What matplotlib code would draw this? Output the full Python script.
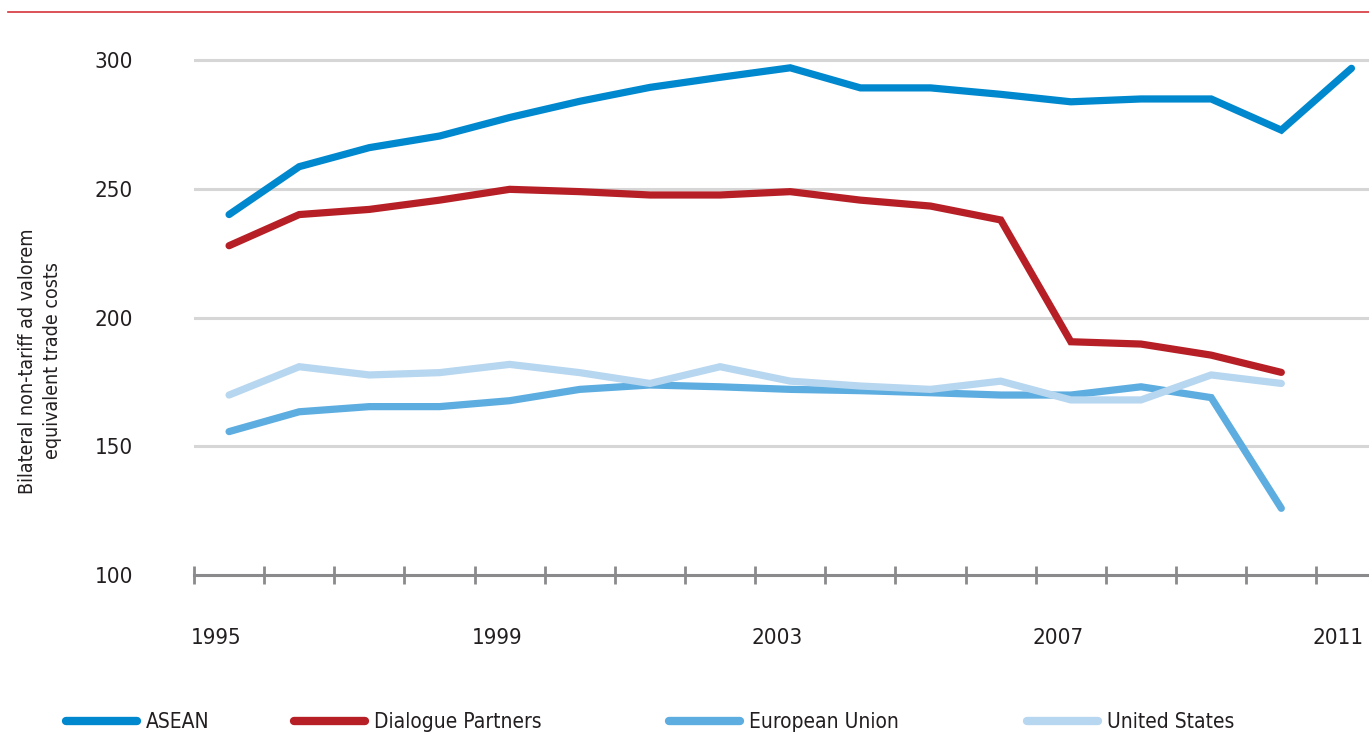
import numpy as np
import matplotlib
matplotlib.use("Agg")
from matplotlib import pyplot as plt
from matplotlib.lines import Line2D
from matplotlib.ticker import FixedLocator
import matplotlib.transforms as mtrans

plt.rcParams['font.family'] = ['DejaVu Sans']
plt.rcParams['font.stretch'] = 'condensed'

years = np.arange(1995, 2012)

# bilateral non-tariff ad valorem equivalent trade costs
asean = [240, 258.6, 266, 270.5, 277.7, 284, 289.4, 293.3, 297, 289.2, 289.2,
         286.7, 283.8, 284.9, 284.9, 272.8, 296.8]
dialogue = [227.9, 240, 242, 245.6, 249.8, 248.9, 247.6, 247.6, 248.9, 245.6,
            243.3, 237.9, 190.6, 189.7, 185.4, 178.7]
eu = [155.7, 163.4, 165.4, 165.4, 167.7, 172.1, 173.8, 173.1, 172.1, 171.6,
      170.8, 169.9, 169.9, 173.1, 168.9, 125.9]
us = [169.9, 180.9, 177.7, 178.6, 181.8, 178.6, 174.4, 180.9, 175.3, 173.4,
      172.1, 175.3, 168, 168, 177.7, 174.4]

series = [
    ("ASEAN", asean, "#0088CE"),
    ("Dialogue Partners", dialogue, "#B71F26"),
    ("European Union", eu, "#5DADE0"),
    ("United States", us, "#B7D6EF"),
]

label_years = [1995, 1999, 2003, 2007, 2011]
yticks = [100, 150, 200, 250, 300]

text_col = "#231F20"
axis_col = "#8A8A8C"
grid_col = "#D6D6D6"

fig = plt.figure(figsize=(13.69, 7.36), dpi=100)
ax = fig.add_axes([194 / 1369, 1 - 575 / 736, 1 - 194 / 1369, 535 / 736])

handles = []
for name, vals, col in series:
    ln, = ax.plot(years[:len(vals)], vals, color=col, lw=5.2,
                  solid_capstyle='round', solid_joinstyle='miter', label=name)
    handles.append(ln)

ax.set_xlim(1994.5, 2011.25)
ax.set_ylim(100, 307.8)

for s in ['top', 'right', 'left']:
    ax.spines[s].set_visible(False)
ax.spines['bottom'].set_color(axis_col)
ax.spines['bottom'].set_linewidth(2.2)

ax.set_yticks(yticks)
ax.set_yticklabels([str(v) for v in yticks])
ax.tick_params(axis='y', length=0, pad=44, labelsize=16, labelcolor=text_col)
for v in yticks[1:]:
    ax.axhline(v, color=grid_col, lw=2.2, zorder=0)

ax.set_xticks(label_years)
ax.set_xticklabels([str(y) for y in label_years])
ax.xaxis.set_minor_locator(FixedLocator(np.arange(1994.5, 2011, 1.0)))
ax.tick_params(axis='x', which='major', length=0, pad=38, labelsize=16, labelcolor=text_col)
ax.tick_params(axis='x', which='minor', length=13, width=2, direction='inout', color=axis_col)
shift = mtrans.ScaledTranslation(-13 / 100, 0, fig.dpi_scale_trans)
for lab in ax.get_xticklabels():
    lab.set_transform(lab.get_transform() + shift)

fig.text(40 / 1369, 1 - 361 / 736,
         "Bilateral non-tariff ad valorem\nequivalent trade costs",
         rotation=90, ha='center', va='center', multialignment='center',
         fontsize=14, color=text_col, linespacing=1.45)

# thin rule along the top
fig.add_artist(Line2D([8 / 1369, 1], [1 - 12 / 736, 1 - 12 / 736],
                      transform=fig.transFigure, color="#D4343B", lw=1.2))

# one legend entry per series, spaced along the bottom
legend_x = [66, 294, 669, 1027]
for h, lx in zip(handles, legend_x):
    leg = fig.legend(handles=[h], loc='center left',
                     bbox_to_anchor=(lx / 1369, 1 - 722 / 736), frameon=False,
                     fontsize=15, handlelength=3.4, handletextpad=0.45,
                     borderaxespad=0, borderpad=0)
    for lh in leg.get_lines():
        lh.set_linewidth(6)
        lh.set_solid_capstyle('round')
    for t in leg.get_texts():
        t.set_color(text_col)

fig.savefig("out.png", dpi=100)
